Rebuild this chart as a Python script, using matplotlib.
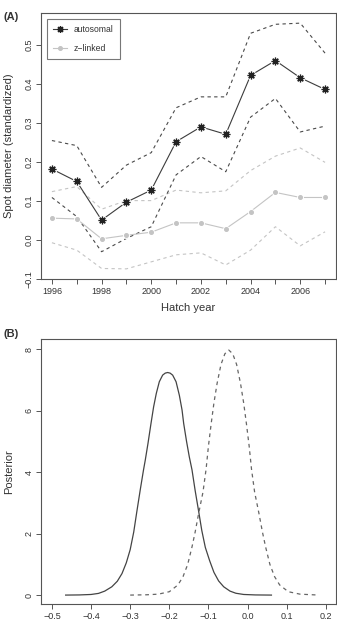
import matplotlib
matplotlib.use("Agg")
import matplotlib.pyplot as plt
from matplotlib.lines import Line2D

plt.rcParams['font.family'] = ['Liberation Sans', 'DejaVu Sans']

# ---------------- Data: panel A ----------------
years = [1996, 1997, 1998, 1999, 2000, 2001, 2002, 2003, 2004, 2005, 2006, 2007]
auto_mean = [0.182, 0.150, 0.051, 0.097, 0.128, 0.252, 0.290, 0.271, 0.422, 0.460, 0.416, 0.386]
auto_upper = [0.255, 0.242, 0.135, 0.192, 0.224, 0.339, 0.367, 0.367, 0.530, 0.553, 0.556, 0.479]
auto_lower = [0.109, 0.060, -0.030, 0.004, 0.034, 0.167, 0.214, 0.175, 0.315, 0.363, 0.277, 0.292]
z_mean = [0.056, 0.054, 0.003, 0.012, 0.020, 0.044, 0.044, 0.029, 0.073, 0.122, 0.109, 0.109]
z_upper = [0.124, 0.137, 0.079, 0.101, 0.101, 0.128, 0.121, 0.126, 0.178, 0.215, 0.236, 0.199]
z_lower = [-0.007, -0.026, -0.073, -0.074, -0.056, -0.038, -0.033, -0.064, -0.026, 0.034, -0.015, 0.021]
year_ticks = [1996, 1998, 2000, 2002, 2004, 2006]
a_yticks = [-0.1, 0.0, 0.1, 0.2, 0.3, 0.4, 0.5]

# ---------------- Data: panel B ----------------
solid_x = [-0.465, -0.430, -0.400, -0.381, -0.365, -0.347, -0.333, -0.321, -0.310,
           -0.300, -0.291, -0.283, -0.274, -0.266, -0.2615, -0.2546, -0.2469,
           -0.2402, -0.2333, -0.2256, -0.2171, -0.2105, -0.2043, -0.198, -0.1915,
           -0.1828, -0.1744, -0.1675, -0.1633, -0.156, -0.149, -0.142, -0.134,
           -0.125, -0.117, -0.108, -0.097, -0.086, -0.074, -0.061, -0.045, -0.030,
           -0.010, 0.020, 0.061]
solid_y = [0.0, 0.005, 0.02, 0.055, 0.13, 0.27, 0.45, 0.70, 1.05,
           1.48, 2.05, 2.72, 3.45, 4.07, 4.39, 4.93, 5.58,
           6.12, 6.56, 6.94, 7.155, 7.22, 7.24, 7.22, 7.155,
           6.94, 6.50, 6.02, 5.58, 5.00, 4.50, 4.07, 3.40,
           2.72, 2.10, 1.55, 1.12, 0.74, 0.46, 0.27, 0.13, 0.06,
           0.02, 0.005, 0.0]
dash_x = [-0.300, -0.258, -0.228, -0.200, -0.178, -0.165, -0.153, -0.142, -0.134,
          -0.125, -0.114, -0.106, -0.100, -0.093, -0.086, -0.078, -0.068, -0.058,
          -0.048, -0.038, -0.028, -0.018, -0.010, -0.003, 0.004, 0.010, 0.018,
          0.029, 0.038, 0.046, 0.057, 0.069, 0.082, 0.104, 0.134, 0.183]
dash_y = [0.0, 0.01, 0.03, 0.11, 0.33, 0.60, 1.0, 1.57, 2.05,
          2.66, 3.35, 4.10, 4.85, 5.58, 6.25, 6.88, 7.50, 7.85,
          7.97, 7.85, 7.50, 6.88, 6.25, 5.58, 4.85, 4.10, 3.35,
          2.66, 2.05, 1.57, 1.0, 0.60, 0.33, 0.11, 0.03, 0.0]
b_xticks = [-0.5, -0.4, -0.3, -0.2, -0.1, 0.0, 0.1, 0.2]
b_yticks = [0, 2, 4, 6, 8]

# ---------------- Styling ----------------
W, H = 337, 630
fig = plt.figure(figsize=(W / 100, H / 100), dpi=100)

dark = '#3c3c3c'
dashc = '#4a4a4a'
light = '#c4c4c4'
axc = '#555555'
txtc = '#333333'
tick_fs = 6.5
lab_fs = 8

def style_axes(ax):
    for s in ax.spines.values():
        s.set_color(axc)
        s.set_linewidth(0.8)
    ax.tick_params(axis='both', direction='out', length=3.5, width=0.7,
                   color=axc, labelsize=tick_fs, labelcolor=txtc, pad=2)

def fx(px):
    return px / W

def fy(py):
    return 1 - py / H

# ---------------- Panel A ----------------
axA = fig.add_axes([fx(41), fy(279), fx(336) - fx(41), fy(13) - fy(279)])
style_axes(axA)
dash = (0, (3, 3))
axA.plot(years, z_upper, color=light, lw=0.8, linestyle=dash, zorder=2)
axA.plot(years, z_lower, color=light, lw=0.8, linestyle=dash, zorder=2)
axA.plot(years, auto_upper, color=dashc, lw=0.8, linestyle=dash, zorder=2)
axA.plot(years, auto_lower, color=dashc, lw=0.8, linestyle=dash, zorder=2)

axA.plot(years, z_mean, color=light, lw=0.8, zorder=3)
axA.plot(years, z_mean, linestyle='none', marker='o', ms=5, mfc='white', mec='none', zorder=4)
axA.plot(years, z_mean, linestyle='none', marker='o', ms=2.6, mfc=light, mec=light, zorder=5)

axA.plot(years, auto_mean, color=dark, lw=0.8, zorder=3)
axA.plot(years, auto_mean, linestyle='none', marker='o', ms=7, mfc='white', mec='none', zorder=4)
axA.plot(years, auto_mean, linestyle='none', marker=(8, 2, 0), ms=5.5, mew=0.9,
         mec='#222222', zorder=5)

axA.set_xlim(1995.56, 2007.44)
axA.set_ylim(-0.1, 0.582)
axA.set_xticks(years)
axA.set_xticklabels([str(y) if y in year_ticks else '' for y in years])
axA.set_yticks(a_yticks)
axA.set_yticklabels(['\u22120.1' if v < 0 else f'{v:.1f}' for v in a_yticks],
                    rotation=90, va='center')
axA.set_xlabel('Hatch year', fontsize=lab_fs, color=txtc)
axA.xaxis.set_label_coords(0.5, -0.092)
axA.set_ylabel('Spot diameter (standardized)', fontsize=lab_fs, color=txtc)
axA.yaxis.set_label_coords(-0.092, 0.5)

handles = [
    Line2D([], [], color=dark, lw=0.8, marker=(8, 2, 0), ms=5, mew=0.9, mec='#222222'),
    Line2D([], [], color=light, lw=0.8, marker='o', ms=2.6, mfc=light, mec=light),
]
leg = axA.legend(handles, ['autosomal', 'z\u2212linked'], loc='upper left',
                 bbox_to_anchor=(0.02, 0.978), fontsize=6.2, frameon=True,
                 fancybox=False, edgecolor=axc, handlelength=1.6, handletextpad=0.8,
                 borderpad=0.75, labelspacing=1.1, borderaxespad=0.0)
leg.get_frame().set_linewidth(0.8)
for t in leg.get_texts():
    t.set_color(txtc)

fig.text(fx(3), fy(17), '(A)', fontsize=8, fontweight='bold', color=txtc,
         ha='left', va='center')

# ---------------- Panel B ----------------
axB = fig.add_axes([fx(41), fy(604), fx(336) - fx(41), fy(339) - fy(604)])
style_axes(axB)
axB.plot(solid_x, solid_y, color='#444444', lw=0.9, solid_joinstyle='round')
axB.plot(dash_x, dash_y, color='#666666', lw=0.9, linestyle=dash)
axB.set_xlim(-0.528, 0.226)
axB.set_ylim(-0.29, 8.33)
axB.set_xticks(b_xticks)
axB.set_xticklabels(['\u22120.5', '\u22120.4', '\u22120.3', '\u22120.2', '\u22120.1',
                     '0.0', '0.1', '0.2'])
axB.set_yticks(b_yticks)
axB.set_yticklabels([str(v) for v in b_yticks], rotation=90, va='center')
axB.set_ylabel('Posterior', fontsize=lab_fs, color=txtc)
axB.yaxis.set_label_coords(-0.092, 0.5)

fig.text(fx(3), fy(334), '(B)', fontsize=8, fontweight='bold', color=txtc,
         ha='left', va='center')

fig.savefig('out.png', dpi=100)
